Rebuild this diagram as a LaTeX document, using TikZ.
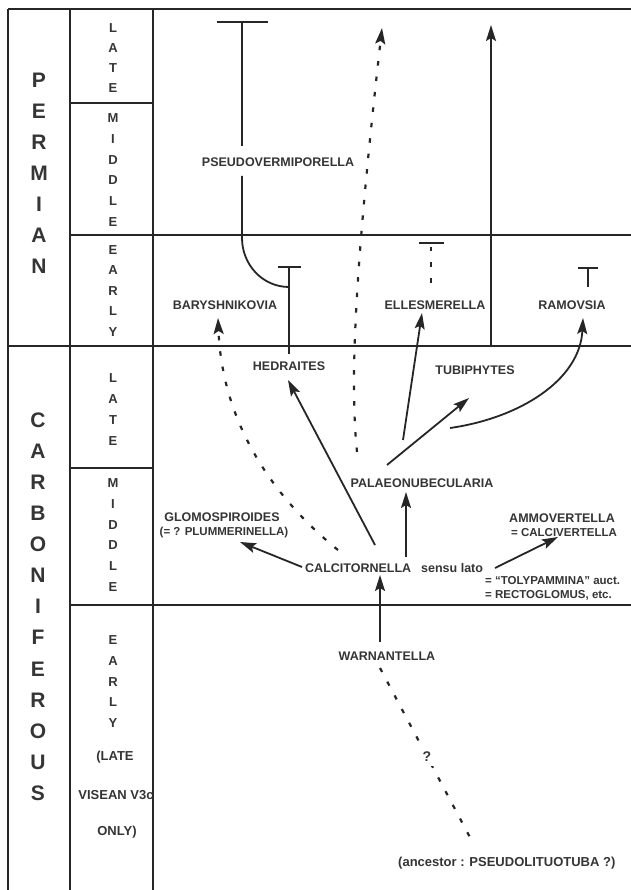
\documentclass[tikz,border=0pt]{standalone}
\usepackage{fontspec}
\setmainfont{Liberation Sans}
\usetikzlibrary{arrows.meta,calc}
\definecolor{ink}{HTML}{262626}
\definecolor{txt}{HTML}{353535}
\begin{document}
\begin{tikzpicture}[x=1pt,y=-1pt,
  frame/.style={draw=ink,line width=1.1pt},
  era/.style={font=\fontsize{21}{21}\selectfont\bfseries,text=txt,inner sep=0pt},
  stage/.style={font=\fontsize{13}{13}\selectfont\bfseries,text=txt,inner sep=0pt},
  taxon/.style={font=\fontsize{12.5}{13}\selectfont\bfseries,text=txt,inner sep=1pt},
  small/.style={taxon,font=\fontsize{11.5}{12}\selectfont\bfseries},
  lin/.style={draw=ink,line width=1.8pt},
  arr/.style={lin,-{Stealth[length=16pt,width=10pt,inset=3pt]}},
  dots/.style={draw=ink,line width=2.2pt,dash pattern=on 4.5pt off 11pt},
  darr/.style={dots,-{Stealth[length=16pt,width=10pt,inset=3pt]}}
  ]
\useasboundingbox (0,0) rectangle (630,890);
\fill[white] (0,0) rectangle (630,890);
% frame
\draw[frame,line width=1.9pt] (8,9) -- (632,9);
\draw[frame] (8,9) -- (8,892);
\draw[frame] (70,9) -- (70,892);
\draw[frame] (153,9) -- (153,892);
\draw[frame] (70,103) -- (153,103);
\draw[frame] (70,235) -- (632,235);
\draw[frame] (8,346) -- (632,346);
\draw[frame] (70,468) -- (153,468);
\draw[frame] (70,605) -- (632,605);
% eras
\foreach \l [count=\i from 0] in {P,E,R,M,I,A,N}
  \node[era] (perm\i) at (39,{80+31*\i}) {\l};
\foreach \l [count=\i from 0] in {C,A,R,B,O,N,I,F,E,R,O,U,S}
  \node[era] (carb\i) at (38,{420+31.1*\i}) {\l};
% stages
\foreach \l [count=\i from 0] in {L,A,T,E}
  \node[stage] (pl\i) at (113,{28+20*\i}) {\l};
\foreach \l [count=\i from 0] in {M,I,D,D,L,E}
  \node[stage] (pm\i) at (113,{118+20.8*\i}) {\l};
\foreach \l [count=\i from 0] in {E,A,R,L,Y}
  \node[stage] (pe\i) at (113,{250+20.5*\i}) {\l};
\foreach \l [count=\i from 0] in {L,A,T,E}
  \node[stage] (cl\i) at (113,{378+21*\i}) {\l};
\foreach \l [count=\i from 0] in {M,I,D,D,L,E}
  \node[stage] (cm\i) at (113,{483+20.8*\i}) {\l};
\foreach \l [count=\i from 0] in {E,A,R,L,Y}
  \node[stage] (ce\i) at (113,{640+20.8*\i}) {\l};
\node[stage] (vis1) at (115,757) {(LATE};
\node[stage] (vis2) at (116,795) {VISEAN V3c};
\node[stage] (vis3) at (117,832) {ONLY)};
% taxa
\node[taxon] (pseudo) at (278,162) {PSEUDOVERMIPORELLA};
\node[taxon] (bary) at (225,305) {BARYSHNIKOVIA};
\node[taxon] (hedr) at (289,366) {HEDRAITES};
\node[taxon] (elles) at (435,305) {ELLESMERELLA};
\node[taxon] (ramov) at (572,305) {RAMOVSIA};
\node[taxon] (tubi) at (475,370) {TUBIPHYTES};
\node[taxon] (palaeo) at (422,483) {PALAEONUBECULARIA};
\node[taxon] (glomo) at (222,517) {GLOMOSPIROIDES};
\node[small] (glomob) at (224,533) {(= ? PLUMMERINELLA)};
\node[taxon] (ammo) at (562,518) {AMMOVERTELLA};
\node[small,anchor=west] (ammob) at (510,533) {= CALCIVERTELLA};
\node[taxon,anchor=west] (calc) at (304,568) {CALCITORNELLA};
\node[taxon,anchor=west] (calcb) at (420,568) {sensu lato};
\node[small,anchor=west] (toly) at (484,581) {= “TOLYPAMMINA” auct.};
\node[small,anchor=west] (recto) at (484,595) {= RECTOGLOMUS, etc.};
\node[taxon] (warn) at (387,656) {WARNANTELLA};
\node[taxon,anchor=west,font=\fontsize{13}{13}\selectfont\bfseries] (anc) at (397,863) {(ancestor : PSEUDOLITUOTUBA ?)};
% coordinates
\coordinate (pT) at (242,22);
\coordinate (pA) at (242,146);
\coordinate (pB) at (242,176);
\coordinate (pC) at (242,238);
\coordinate (hJ) at (289,287);
\coordinate (hT) at (289,267);
\coordinate (hS) at (289,354);
\coordinate (eT) at (431,243);
\coordinate (eS) at (431,284);
\coordinate (rT) at (588,268);
\coordinate (rS) at (588,287);
\coordinate (vB) at (491,346);
\coordinate (vT) at (491,25);
\coordinate (bS) at (338,550);
\coordinate (bE) at (218,318);
\coordinate (lS) at (357,452);
\coordinate (lE) at (382,28);
\coordinate (peS) at (403,440);
\coordinate (peE) at (422,313);
\coordinate (prS) at (450,428);
\coordinate (prE) at (583,318);
\coordinate (ptS) at (387,465);
\coordinate (ptE) at (469,398);
\coordinate (chS) at (375,545);
\coordinate (chE) at (288,380);
\coordinate (cpS) at (406,557);
\coordinate (cpE) at (406,492);
\coordinate (cgS) at (302,567);
\coordinate (cgE) at (240,542);
\coordinate (caS) at (495,568);
\coordinate (caE) at (558,537);
\coordinate (wcS) at (380,642);
\coordinate (wcE) at (380,575);
\coordinate (waS) at (380,668);
\coordinate (waE) at (473,843);
% T bars and stems
\draw[lin] (217,22) -- (268,22);
\draw[lin] (pT) -- (pA);
\draw[lin] (pB) -- (pC) to[out=-90,in=180] (hJ);
\draw[lin] (278,267) -- (301,267);
\draw[lin] (hT) -- (hS);
\draw[lin] (419,243) -- (444,243);
\draw[dots,dash phase=-4pt] (eT) -- (eS);
\draw[lin] (578,268) -- (598,268);
\draw[lin] (rT) -- (rS);
% arrows
\draw[arr] (vB) -- (vT);
\draw[darr] (bS) .. controls (270,495) and (222,420) .. (bE);
\draw[darr] (lS) .. controls (349,375) and (357,250) .. (lE);
\draw[arr] (peS) -- (peE);
\draw[arr] (prS) .. controls (520,418) and (580,380) .. (prE);
\draw[arr] (ptS) -- (ptE);
\draw[arr] (chS) -- (chE);
\draw[arr] (cpS) -- (cpE);
\draw[arr] (cgS) -- (cgE);
\draw[arr] (caS) -- (caE);
\draw[arr] (wcS) -- (wcE);
\draw[dots] (waS) -- (waE);
\node[fill=white,inner sep=4pt,text=txt,font=\fontsize{14}{14}\selectfont\bfseries] (q) at (427,757) {?};
\end{tikzpicture}
\end{document}
